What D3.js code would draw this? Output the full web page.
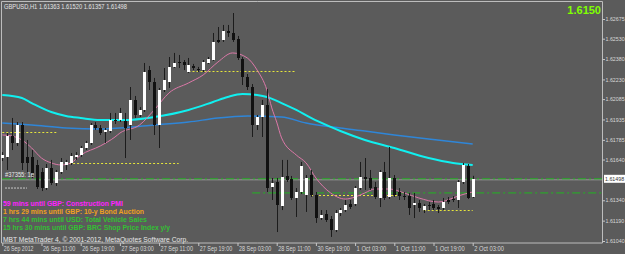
<!DOCTYPE html>
<html>
<head>
<meta charset="utf-8">
<script src="https://cdn.jsdelivr.net/npm/d3@7"></script>
<style>
body { margin: 0; background: #5b5b5b; }
svg { display: block; font-family: "Liberation Sans", Arial, sans-serif; }
</style>
</head>
<body>
<div id="chart"></div>
<script>
var symbol = 'GBPUSD,H1';
var lastQuote = [1.61363, 1.61520, 1.61357, 1.61498];

var open = [1.61651,1.61659,1.61813,1.61762,1.61894,1.61659,1.61659,1.61600,1.61548,1.61430,
  1.61578,1.61467,1.61548,1.61600,1.61615,1.61659,1.61673,1.61725,1.61762,1.61894,
  1.61872,1.61843,1.61850,1.61931,1.61931,1.61924,1.61894,1.62079,1.61968,1.62005,
  1.62299,1.62211,1.61894,1.62152,1.62211,1.62322,1.62358,1.62358,1.62285,1.62329,
  1.62307,1.62299,1.62351,1.62373,1.62520,1.62520,1.62587,1.62572,1.62528,1.62380,
  1.62248,1.62174,1.61894,1.61953,1.62042,1.61438,1.61475,1.61298,1.61519,1.61497,
  1.61357,1.61401,1.61379,1.61526,1.61379,1.61209,1.61239,1.61202,1.61121,1.61246,
  1.61268,1.61313,1.61313,1.61430,1.61511,1.61504,1.61438,1.61357,1.61548,1.61364,
  1.61504,1.61401,1.61371,1.61371,1.61305,1.61320,1.61268,1.61305,1.61313,1.61290,
  1.61283,1.61342,1.61349,1.61342,1.61475,1.61592,1.61363];
var high = [1.61695,1.61835,1.61946,1.61916,1.61916,1.61784,1.61710,1.61637,1.61578,1.61607,
  1.61637,1.61563,1.61651,1.61637,1.61688,1.61695,1.61740,1.61777,1.61909,1.61916,
  1.61894,1.61872,1.61983,1.61983,1.62020,1.61983,1.62174,1.62108,1.62027,1.62351,
  1.62329,1.62241,1.62167,1.62314,1.62395,1.62425,1.62410,1.62373,1.62388,1.62344,
  1.62322,1.62373,1.62395,1.62572,1.62616,1.62631,1.62631,1.62719,1.62550,1.62395,
  1.62270,1.62196,1.61968,1.62079,1.62160,1.61504,1.61504,1.61637,1.61637,1.61519,
  1.61430,1.61622,1.61526,1.61563,1.61401,1.61268,1.61268,1.61224,1.61268,1.61283,
  1.61342,1.61342,1.61445,1.61622,1.61651,1.61563,1.61475,1.61563,1.61622,1.61732,
  1.61526,1.61430,1.61401,1.61394,1.61394,1.61342,1.61313,1.61327,1.61342,1.61305,
  1.61357,1.61364,1.61371,1.61489,1.61615,1.61607,1.61520];
var low = [1.61629,1.61563,1.61710,1.61740,1.61563,1.61548,1.61504,1.61423,1.61408,1.61416,
  1.61452,1.61445,1.61534,1.61563,1.61600,1.61637,1.61659,1.61710,1.61747,1.61858,
  1.61821,1.61762,1.61835,1.61902,1.61916,1.61651,1.61784,1.61946,1.61953,1.61990,
  1.62152,1.61821,1.61725,1.62137,1.62167,1.62314,1.62314,1.62299,1.62277,1.62299,
  1.62285,1.62285,1.62344,1.62366,1.62498,1.62506,1.62543,1.62506,1.62373,1.62189,
  1.62152,1.61806,1.61858,1.61806,1.61401,1.61342,1.61106,1.61268,1.61475,1.61342,
  1.61217,1.61386,1.61254,1.61364,1.61173,1.61195,1.61180,1.61070,1.61106,1.61224,
  1.61254,1.61276,1.61298,1.61416,1.61416,1.61416,1.61349,1.61290,1.61342,1.61349,
  1.61364,1.61342,1.61342,1.61232,1.61209,1.61254,1.61246,1.61268,1.61268,1.61246,
  1.61268,1.61313,1.61327,1.61283,1.61460,1.61349,1.61357];
var close = [1.61673,1.61813,1.61762,1.61894,1.61615,1.61615,1.61541,1.61438,1.61430,1.61578,
  1.61467,1.61548,1.61622,1.61622,1.61666,1.61673,1.61725,1.61762,1.61894,1.61872,
  1.61835,1.61858,1.61931,1.61924,1.61983,1.61872,1.62079,1.61968,1.62005,1.62285,
  1.62211,1.61894,1.62152,1.62226,1.62322,1.62351,1.62351,1.62336,1.62336,1.62314,
  1.62305,1.62358,1.62380,1.62506,1.62506,1.62587,1.62572,1.62520,1.62388,1.62248,
  1.62174,1.61894,1.61953,1.62042,1.61430,1.61467,1.61305,1.61511,1.61489,1.61357,
  1.61401,1.61592,1.61504,1.61379,1.61209,1.61232,1.61195,1.61121,1.61246,1.61268,
  1.61305,1.61290,1.61430,1.61511,1.61497,1.61430,1.61364,1.61548,1.61357,1.61504,
  1.61379,1.61371,1.61368,1.61283,1.61320,1.61283,1.61298,1.61303,1.61283,1.61276,
  1.61327,1.61327,1.61347,1.61475,1.61600,1.61357,1.61498];

// moving averages, read at sample bars
var cyanBars = [0,4,6,10,13,16,20,25,31,38,43,46,49,52,54,57,60,63,67,69,74,80,87,92,96];
var cyanVals = [1.62115,1.62093,1.62056,1.61990,1.61961,1.61946,1.61931,1.61931,1.61953,1.62005,
  1.62064,1.62101,1.62123,1.62115,1.62101,1.62056,1.62005,1.61946,1.61880,1.61850,
  1.61784,1.61725,1.61651,1.61615,1.61600];
var blueBars = [0,6,13,20,24,31,38,44,50,57,62,69,74,80,87,96];
var blueVals = [1.61909,1.61894,1.61872,1.61865,1.61872,1.61894,1.61916,1.61946,1.61961,1.61953,
  1.61909,1.61872,1.61850,1.61821,1.61791,1.61754];
var pinkBars = [0,2,4,6,8,10,12,14,16,20,23,24,28,31,34,38,41,44,47,50,52,54,55,56,57,60,62,64,67,70,72,74,76,79,82,85,89,92,93,96];
var pinkVals = [1.61821,1.61813,1.61784,1.61725,1.61651,1.61615,1.61600,1.61615,1.61673,1.61740,
  1.61806,1.61835,1.61894,1.62005,1.62130,1.62204,1.62263,1.62358,1.62425,1.62388,
  1.62299,1.62152,1.62020,1.61916,1.61799,1.61673,1.61615,1.61504,1.61394,1.61349,
  1.61364,1.61394,1.61423,1.61423,1.61394,1.61357,1.61327,1.61357,1.61371,1.61401];

// dotted levels
var levelPrices = [1.61843, 1.61615, 1.62292, 1.61379, 1.61268];
var levelFrom = [0, 12, 38, 63, 86];
var levelTo = [11.4, 36, 60, 81, 96];

var bidPrice = 1.61498;
var greenLevel = 1.61394;
var greenFrom = 51;
var orderPrice = 1.61430;
var orderLabel = '#37355: 1e';

var yTicks = [1.62675,1.62530,1.62380,1.62230,1.62085,1.61935,1.61785,1.61640,1.61340,1.61190,1.61040];
var xTickBars = [0,8,16,24,32,40,48,56,64,72,80,88,96];
var xLabels = ['26 Sep 2012','26 Sep 11:00','26 Sep 19:00','27 Sep 03:00','27 Sep 11:00','27 Sep 19:00',
  '28 Sep 03:00','28 Sep 11:00','30 Sep 19:00','1 Oct 03:00','1 Oct 11:00','1 Oct 19:00','2 Oct 03:00'];

var events = ['59 mins until GBP: Construction PMI',
  '1 hrs 29 mins until GBP: 10-y Bond Auction',
  '7 hrs 44 mins until USD: Total Vehicle Sales',
  '15 hrs 30 mins until GBP: BRC Shop Price Index y/y'];
var eventColors = ['#ff22ff', '#f0a020', '#33c033', '#33c033'];
var eventWidths = [120, 141, 144, 167];
var copyright = 'MBT MetaTrader 4, \u00a9 2001-2012, MetaQuotes Software Corp.';

var svgWidth = 625, svgHeight = 254;
var plotRight = 602, plotTop = 1.5, plotBottom = 243;

var x = d3.scaleLinear().domain([0, 96]).range([2.3, 472.7]);
var y = d3.scaleLinear().domain([1.61040, 1.62675]).range([241, 19]);

var svg = d3.select('#chart').append('svg')
  .attr('width', svgWidth)
  .attr('height', svgHeight);

svg.append('rect').attr('width', svgWidth).attr('height', svgHeight).attr('fill', '#5b5b5b');

// plot frame
svg.append('path')
  .attr('d', 'M1.5,' + plotBottom + 'V' + plotTop + 'H' + (plotRight + 0.5) + 'V' + plotBottom + 'H1.5')
  .attr('fill', 'none').attr('stroke', '#bdbdbd').attr('stroke-width', 1);

var main = svg.append('g');

// bid line and green levels
main.append('line')
  .attr('x1', 2).attr('x2', plotRight).attr('y1', y(bidPrice) + 1).attr('y2', y(bidPrice) + 1)
  .attr('stroke', '#9a9a9a').attr('stroke-width', 1);
main.append('line')
  .attr('x1', 2).attr('x2', plotRight).attr('y1', y(bidPrice)).attr('y2', y(bidPrice))
  .attr('stroke', '#22b522').attr('stroke-width', 1).attr('stroke-dasharray', '8,3,2,3');
main.append('line')
  .attr('x1', x(greenFrom)).attr('x2', plotRight).attr('y1', y(greenLevel)).attr('y2', y(greenLevel))
  .attr('stroke', '#22b522').attr('stroke-width', 1).attr('stroke-dasharray', '8,3,2,3');
main.append('line')
  .attr('x1', 5).attr('x2', 27).attr('y1', y(orderPrice)).attr('y2', y(orderPrice))
  .attr('stroke', '#c8c8c8').attr('stroke-width', 1).attr('stroke-dasharray', '2,1');

main.append('g').selectAll('line')
  .data(levelPrices)
  .enter()
  .append('line')
  .attr('x1', function(d, i) { return x(levelFrom[i]); })
  .attr('x2', function(d, i) { return x(levelTo[i]); })
  .attr('y1', function(d) { return Math.round(y(d)) + 0.5; })
  .attr('y2', function(d) { return Math.round(y(d)) + 0.5; })
  .attr('stroke', '#e6e63c').attr('stroke-width', 1).attr('stroke-dasharray', '2,2');

// moving averages
function maLine(bars, vals, color, w) {
  var line = d3.line()
    .x(function(d, i) { return x(bars[i]); })
    .y(function(d) { return y(d); })
    .curve(d3.curveMonotoneX);
  main.append('path')
    .attr('d', line(vals))
    .attr('fill', 'none').attr('stroke', color).attr('stroke-width', w);
}
maLine(blueBars, blueVals, '#2f86d8', 1.5);
maLine(cyanBars, cyanVals, '#10f0f0', 2);
maLine(pinkBars, pinkVals, '#dc78a8', 1);

// candles
var candles = main.append('g').selectAll('g')
  .data(d3.range(open.length))
  .enter()
  .append('g');

candles.append('line')
  .attr('x1', function(i) { return Math.round(x(i)) + 0.5; })
  .attr('x2', function(i) { return Math.round(x(i)) + 0.5; })
  .attr('y1', function(i) { return y(high[i]); })
  .attr('y2', function(i) { return y(low[i]); })
  .attr('stroke', '#1c1c1c').attr('stroke-width', 1);

candles.append('rect')
  .attr('x', function(i) { return Math.round(x(i)) - 1; })
  .attr('width', 3)
  .attr('y', function(i) { return Math.round(y(Math.max(open[i], close[i]))); })
  .attr('height', function(i) { return Math.max(1, Math.round(Math.abs(y(open[i]) - y(close[i])))); })
  .attr('fill', function(i) { return close[i] >= open[i] ? '#ffffff' : '#111111'; });

// order label
main.append('text')
  .attr('x', 5).attr('y', y(orderPrice) - 11)
  .attr('fill', '#e8e8e8').attr('font-size', '6.5px')
  .attr('textLength', 29).attr('lengthAdjust', 'spacingAndGlyphs')
  .text(orderLabel);

// y axis
var yAxis = d3.axisRight(y).tickValues(yTicks).tickSize(2.5).tickPadding(0.5)
  .tickFormat(d3.format('.5f'));
var yg = svg.append('g')
  .attr('transform', 'translate(' + (plotRight + 0.5) + ',0)')
  .call(yAxis);
yg.select('.domain').remove();
yg.selectAll('line').attr('stroke', '#c8c8c8');
yg.selectAll('text').attr('fill', '#d8d8d8').attr('font-size', '5.3px')
  .attr('font-family', '"Liberation Sans", Arial, sans-serif');

// current price box
svg.append('rect')
  .attr('x', 604).attr('y', y(bidPrice) - 4).attr('width', 21).attr('height', 8)
  .attr('fill', '#ffffff');
svg.append('text')
  .attr('x', 605).attr('y', y(bidPrice) + 2)
  .attr('fill', '#333').attr('font-size', '5.3px')
  .text(d3.format('.5f')(bidPrice));

// x axis
var xAxis = d3.axisBottom(x).tickValues(xTickBars).tickSize(3).tickPadding(2)
  .tickFormat(function(d, i) { return xLabels[i]; });
var xg = svg.append('g')
  .attr('transform', 'translate(0,' + plotBottom + ')')
  .call(xAxis);
xg.select('.domain').remove();
xg.selectAll('line').attr('stroke', '#c8c8c8');
xg.selectAll('text').attr('fill', '#d8d8d8').attr('font-size', '6.5px')
  .attr('text-anchor', 'start').attr('dx', 1).attr('dy', '0.5em')
  .attr('textLength', function(d, i) { return xLabels[i].length * 2.7; })
  .attr('lengthAdjust', 'spacingAndGlyphs')
  .attr('font-family', '"Liberation Sans", Arial, sans-serif');

// header
svg.append('text')
  .attr('x', 4).attr('y', 9)
  .attr('fill', '#e4e4e4').attr('font-size', '6.5px')
  .attr('textLength', 123).attr('lengthAdjust', 'spacingAndGlyphs')
  .text(symbol + '  ' + lastQuote.map(d3.format('.5f')).join(' '));

svg.append('text')
  .attr('x', 601).attr('y', 14)
  .attr('text-anchor', 'end')
  .attr('fill', '#80ff00').attr('font-size', '11px').attr('font-weight', 'bold')
  .text(d3.format('.4f')(bidPrice));

// event texts
svg.append('g').selectAll('text')
  .data(events)
  .enter()
  .append('text')
  .attr('x', 3)
  .attr('y', function(d, i) { return 206 + i * 7.9; })
  .attr('fill', function(d, i) { return eventColors[i]; })
  .attr('font-size', '7px').attr('font-weight', 'bold')
  .attr('textLength', function(d, i) { return eventWidths[i]; })
  .attr('lengthAdjust', 'spacingAndGlyphs')
  .text(function(d) { return d; });

svg.append('text')
  .attr('x', 3).attr('y', 241.5)
  .attr('fill', '#e8e8e8').attr('font-size', '6.8px')
  .attr('textLength', 185).attr('lengthAdjust', 'spacingAndGlyphs')
  .text(copyright);
</script>
</body>
</html>
